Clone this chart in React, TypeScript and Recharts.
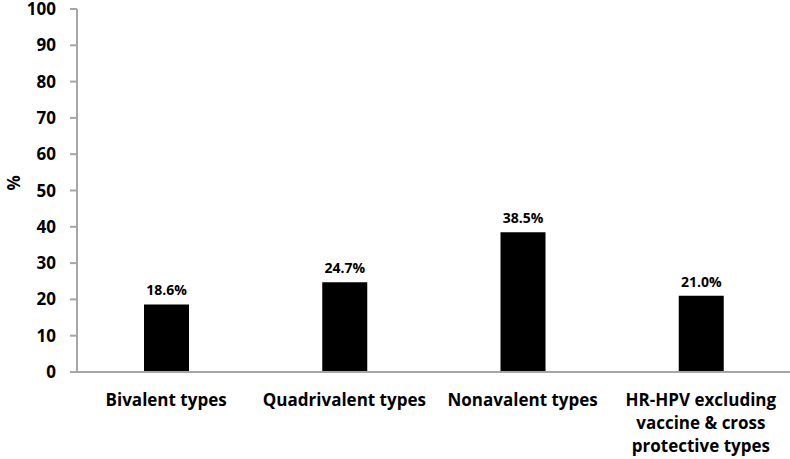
import React from 'react';
import { BarChart, Bar, XAxis, YAxis, LabelList } from 'recharts';

const categories = ['Bivalent types', 'Quadrivalent types', 'Nonavalent types', 'HR-HPV excluding vaccine & cross protective types'];
const categoryLines = [
    ['Bivalent types'],
    ['Quadrivalent types'],
    ['Nonavalent types'],
    ['HR-HPV excluding', 'vaccine & cross', 'protective types']
];
const percentages = [18.6, 24.7, 38.5, 21.0];
const yTicks = [0, 10, 20, 30, 40, 50, 60, 70, 80, 90, 100];

const data = categories.map((name, i) => ({ name, value: percentages[i], idx: i }));

const font = '"Open Sans", "Liberation Sans", sans-serif';

const CategoryTick = (props: any) => {
    const { x, y, index } = props;
    const lines = categoryLines[index] || [];
    return (
        <text x={x} y={y} textAnchor="middle" fontFamily={font} fontWeight="bold" fontSize={17} fill="#000">
            {lines.map((line, i) => (
                <tspan key={i} x={x} dy={i === 0 ? 26 : 23}>{line}</tspan>
            ))}
        </text>
    );
};

const App = () => {
    return (
        <div style={{ position: 'absolute', left: 0, top: 0, width: 790, height: 459, background: '#fff' }}>
            <BarChart width={790} height={459} data={data} margin={{ top: 9, right: 0, bottom: 0, left: 0 }}>
                <XAxis
                    dataKey="name"
                    interval={0}
                    tick={<CategoryTick />}
                    tickLine={false}
                    axisLine={{ stroke: '#a6a6a6', strokeWidth: 2 }}
                    height={87}
                />
                <YAxis
                    domain={[0, 100]}
                    ticks={yTicks}
                    interval={0}
                    width={77}
                    tickSize={7}
                    tickMargin={14}
                    axisLine={{ stroke: '#a6a6a6', strokeWidth: 2 }}
                    tickLine={{ stroke: '#a6a6a6', strokeWidth: 2 }}
                    tick={{ fill: '#000', fontFamily: font, fontWeight: 'bold', fontSize: 17 }}
                    label={{ value: '%', angle: -90, position: 'insideLeft', offset: 14, fill: '#000', fontFamily: font, fontSize: 17, fontWeight: 'bold' }}
                />
                <Bar dataKey="value" fill="#000" barSize={45} isAnimationActive={false}>
                    <LabelList
                        dataKey="value"
                        position="top"
                        offset={9}
                        formatter={(v: any) => `${Number(v).toFixed(1)}%`}
                        style={{ fill: '#000', fontFamily: font, fontWeight: 'bold', fontSize: 14 }}
                    />
                </Bar>
            </BarChart>
        </div>
    );
};

export default App;
